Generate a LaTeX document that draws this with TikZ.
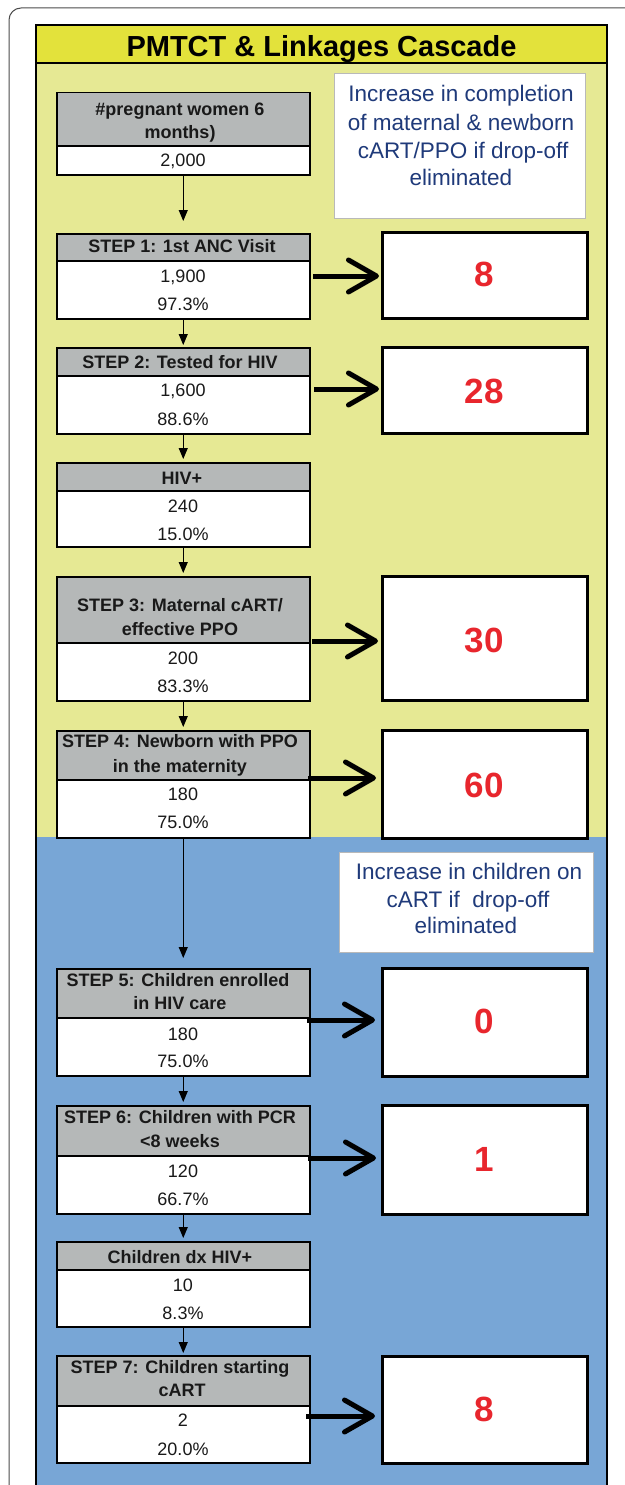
\documentclass[tikz,border=0pt]{standalone}
\usepackage{fontspec}
\setmainfont{Liberation Sans}
\usetikzlibrary{arrows.meta}
\definecolor{titley}{HTML}{E3E23B}
\definecolor{panely}{HTML}{E6E994}
\definecolor{panelb}{HTML}{78A6D6}
\definecolor{hdrg}{HTML}{B5B8B8}
\definecolor{numred}{HTML}{E8262D}
\definecolor{navy}{HTML}{1F3A7A}
\begin{document}
\begin{tikzpicture}[x=1pt,y=-1pt,
 box/.style={draw=black, line width=1.5pt, inner sep=0, minimum width=253pt, anchor=north west},
 hdr/.style={box, fill=hdrg},
 val/.style={box, fill=white},
 rbox/.style={draw=black, line width=3pt, fill=white, inner sep=0, minimum width=205pt, anchor=north west},
 ibox/.style={draw=gray!55, line width=1pt, fill=white, inner sep=0, anchor=north west},
 ht/.style={anchor=base, inner sep=0, font=\fontsize{18}{18}\selectfont\bfseries, text=black!90},
 vt/.style={anchor=base, inner sep=0, font=\fontsize{18}{18}\selectfont, text=black!90},
 it/.style={anchor=base, inner sep=0, font=\fontsize{22.5}{22.5}\selectfont, text=navy},
 nt/.style={anchor=base, inner sep=0, font=\fontsize{35}{35}\selectfont\bfseries, text=numred},
 flow/.style={line width=1pt, -{Triangle[length=11pt,width=9pt]}},
 push/.style={line width=5pt, -{Straight Barb[length=28pt,width=32pt,round]}},
]
\useasboundingbox (0,0) rectangle (624,1485);
\fill[white] (0,0) rectangle (624,1485);
% outer frame
\draw[gray!60!black, line width=1pt, rounded corners=12pt] (9,8) rectangle (680,1540);
% panel
\fill[panely] (36,63) rectangle (607,837);
\fill[panelb] (36,837) rectangle (607,1500);
\fill[titley] (36,25) rectangle (607,63);
\draw[line width=1.2pt] (36,1500) -- (36,25) -- (607,25) -- (607,1500);
\draw[line width=1.2pt] (36,63) -- (607,63);
\node[anchor=base, inner sep=0, font=\fontsize{29}{29}\selectfont\bfseries] (title) at (321.5,56.5) {PMTCT \& Linkages Cascade};

% info boxes
\node[ibox, minimum width=251pt, minimum height=145pt] (i1) at (334,73) {};
\node[it] (i1a) at (461,102) {Increase in completion};
\node[it] (i1b) at (461,130.3) {of maternal \& newborn};
\node[it] (i1c) at (463,158) {cART/PPO if drop-off};
\node[it] (i1d) at (461,185) {eliminated};
\node[ibox, minimum width=254pt, minimum height=100pt] (i2) at (339,852) {};
\node[it] (i2a) at (469,879.3) {Increase in children on};
\node[it] (i2b) at (468,907.3) {cART if\ \ drop-off};
\node[it] (i2c) at (466,933.3) {eliminated};

% left boxes
\node[val, minimum height=29pt] (v0) at (56,145) {};
\node[hdr, minimum height=53pt] (h0) at (56,92) {};
\node[ht] (t0a) at (180,115.3) {\#pregnant women 6};
\node[ht] (t0b) at (180,138.3) {months)};
\node[vt] (t0c) at (183,166.7) {2,000};

\node[val, minimum height=58pt] (v1) at (56,260) {};
\node[hdr, minimum height=27pt] (h1) at (56,233) {};
\node[ht] (t1a) at (182,252.7) {STEP 1: 1st ANC Visit};
\node[vt] (t1b) at (183,282.7) {1,900};
\node[vt] (t1c) at (183,310) {97.3\%};

\node[val, minimum height=58pt] (v2) at (56,375) {};
\node[hdr, minimum height=28pt] (h2) at (56,347) {};
\node[ht] (t2a) at (180,368.3) {STEP 2: Tested for HIV};
\node[vt] (t2b) at (183,396.7) {1,600};
\node[vt] (t2c) at (183,425) {88.6\%};

\node[val, minimum height=56pt] (v3) at (56,490) {};
\node[hdr, minimum height=28pt] (h3) at (56,462) {};
\node[ht] (t3a) at (182,484) {HIV+};
\node[vt] (t3b) at (183,512.3) {240};
\node[vt] (t3c) at (183,540) {15.0\%};

\node[val, minimum height=58pt] (v4) at (56,642) {};
\node[hdr, minimum height=66pt] (h4) at (56,576) {};
\node[ht] (t4a) at (180,611.7) {STEP 3: Maternal cART/};
\node[ht] (t4b) at (180,635) {effective PPO};
\node[vt] (t4c) at (183,664.3) {200};
\node[vt] (t4d) at (183,692) {83.3\%};

\node[val, minimum height=58pt] (v5) at (56,779) {};
\node[hdr, minimum height=49pt] (h5) at (56,730) {};
\node[ht] (t5a) at (180,747.3) {STEP 4: Newborn with PPO};
\node[ht] (t5b) at (180,772.3) {in the maternity};
\node[vt] (t5c) at (183,800.7) {180};
\node[vt] (t5d) at (183,828.7) {75.0\%};

\node[val, minimum height=58pt] (v6) at (56,1017) {};
\node[hdr, minimum height=49pt] (h6) at (56,968) {};
\node[ht] (t6a) at (178,986) {STEP 5: Children enrolled};
\node[ht] (t6b) at (180,1009.3) {in HIV care};
\node[vt] (t6c) at (183,1040) {180};
\node[vt] (t6d) at (183,1067.7) {75.0\%};

\node[val, minimum height=58pt] (v7) at (56,1155) {};
\node[hdr, minimum height=50pt] (h7) at (56,1105) {};
\node[ht] (t7a) at (180,1123.3) {STEP 6: Children with PCR};
\node[ht] (t7b) at (180,1147.3) {<8 weeks};
\node[vt] (t7c) at (183,1177.3) {120};
\node[vt] (t7d) at (183,1205) {66.7\%};

\node[val, minimum height=57pt] (v8) at (56,1269) {};
\node[hdr, minimum height=28pt] (h8) at (56,1241) {};
\node[ht] (t8a) at (180,1263.3) {Children dx HIV+};
\node[vt] (t8b) at (183,1291.7) {10};
\node[vt] (t8c) at (183,1319.3) {8.3\%};

\node[val, minimum height=57pt] (v9) at (56,1405) {};
\node[hdr, minimum height=50pt] (h9) at (56,1355) {};
\node[ht] (t9a) at (180,1373.3) {STEP 7: Children starting};
\node[ht] (t9b) at (182,1396.7) {cART};
\node[vt] (t9c) at (183,1426) {2};
\node[vt] (t9d) at (183,1455) {20.0\%};

% right boxes
\node[rbox, minimum height=86pt] (r1) at (381,231) {};
\node[nt] (n1) at (484,286.7) {8};
\node[rbox, minimum height=86pt] (r2) at (381,346) {};
\node[nt] (n2) at (484,403.3) {28};
\node[rbox, minimum height=124pt] (r3) at (381,575) {};
\node[nt] (n3) at (484,652.7) {30};
\node[rbox, minimum height=108pt] (r4) at (381,729) {};
\node[nt] (n4) at (484,797.3) {60};
\node[rbox, minimum height=108pt] (r5) at (381,967) {};
\node[nt] (n5) at (484,1033.3) {0};
\node[rbox, minimum height=109pt] (r6) at (381,1104) {};
\node[nt] (n6) at (484,1171.7) {1};
\node[rbox, minimum height=107pt] (r7) at (381,1355) {};
\node[nt] (n7) at (484,1421.7) {8};

% thin flow arrows
\draw[flow, shorten >=12pt] (v0.south) -- (h1.north);
\draw[flow, shorten >=2pt] (v1.south) -- (h2.north);
\draw[flow, shorten >=3pt] (v2.south) -- (h3.north);
\draw[flow, shorten >=3pt] (v3.south) -- (h4.north);
\draw[flow, shorten >=3pt] (v4.south) -- (h5.north);
\draw[flow, shorten >=10pt] (v5.south) -- (h6.north);
\draw[flow, shorten >=3pt] (v6.south) -- (h7.north);
\draw[flow, shorten >=3pt] (v7.south) -- (h8.north);
\draw[flow, shorten >=2pt] (v8.south) -- (h9.north);

% thick arrows
\coordinate (p1) at (313,276);
\coordinate (p2) at (314,389);
\coordinate (p3) at (312,641);
\coordinate (p4) at (308,778);
\coordinate (p5) at (307,1020);
\coordinate (p6) at (308,1158);
\coordinate (p7) at (306,1416);
\draw[push, shorten >=2pt] (p1) -- (p1 -| r1.west);
\draw[push, shorten >=2pt] (p2) -- (p2 -| r2.west);
\draw[push, shorten >=3pt] (p3) -- (p3 -| r3.west);
\draw[push, shorten >=5pt] (p4) -- (p4 -| r4.west);
\draw[push, shorten >=6pt] (p5) -- (p5 -| r5.west);
\draw[push, shorten >=5pt] (p6) -- (p6 -| r6.west);
\draw[push, shorten >=6pt] (p7) -- (p7 -| r7.west);
\end{tikzpicture}
\end{document}
